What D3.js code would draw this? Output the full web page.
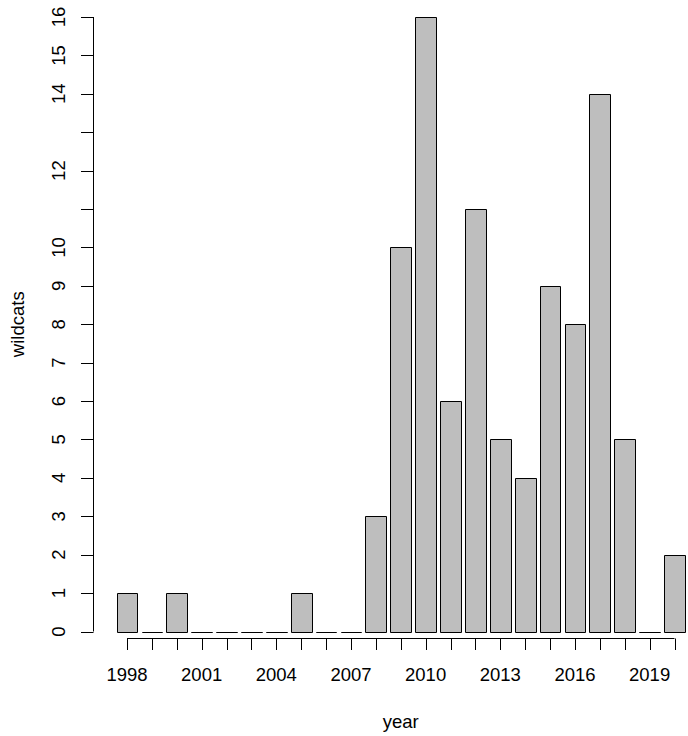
<!DOCTYPE html>
<meta charset="utf-8">
<style>
    body { margin: 0; background: #fff; }
    text {
        font-family: "Liberation Sans", Arial, sans-serif;
        font-size: 18.5px;
        fill: #000;
    }
    .bars path {
        fill: #bebebe;
        stroke: #000;
        stroke-width: 1;
    }
</style>
<svg id="svg" width="688" height="736"></svg>
<script src="https://d3js.org/d3.v7.min.js"></script>
<script>

    // data
    var years = d3.range(1998, 2021);
    var wildcats = [1, 0, 1, 0, 0, 0, 0, 1, 0, 0, 3, 10, 16, 6, 11, 5, 4, 9, 8, 14, 5, 0, 2];
    var yTicks = d3.range(0, 17);
    var yLabels = [0, 1, 2, 3, 4, 5, 6, 7, 8, 9, 10, 12, 14, 15, 16]; // 11 and 13 dropped like R does
    var xLabels = [1998, 2001, 2004, 2007, 2010, 2013, 2016, 2019];

    var svg = d3.select("svg");

    // R barplot: width 1, space 0.2 -> step 1.2
    var step = (674.5 - 127) / 22;
    var x = d3.scaleBand()
        .domain(years)
        .range([127 - step / 2, 674.5 + step / 2])
        .paddingInner(1 / 6)
        .paddingOuter(1 / 12);

    var y = d3.scaleLinear()
        .domain([0, 16])
        .range([631.5, 17]);

    function cx(d) { return x(d) + x.bandwidth() / 2; }

    // bars drawn as closed paths so that zero bars still show as a flat line
    svg.append("g")
        .attr("class", "bars")
        .selectAll("path")
        .data(years)
        .enter().append("path")
        .attr("d", function (d, i) {
            var x0 = Math.round(x(d)) + 0.5,
                x1 = Math.round(x(d) + x.bandwidth()) + 0.5,
                y0 = Math.round(y(0)) + 0.5,
                y1 = Math.round(y(wildcats[i])) + 0.5;
            return "M" + x0 + "," + y0 + "V" + y1 + "H" + x1 + "V" + y0 + "Z";
        });

    // y axis
    var ya = svg.append("g").attr("stroke", "#000").attr("stroke-width", 1);
    ya.append("line")
        .attr("x1", 93.5).attr("x2", 93.5)
        .attr("y1", y(0)).attr("y2", y(16));
    ya.selectAll("line.tick")
        .data(yTicks)
        .enter().append("line")
        .attr("class", "tick")
        .attr("x1", 81).attr("x2", 93.5)
        .attr("y1", function (d) { return Math.round(y(d)) + 0.5; })
        .attr("y2", function (d) { return Math.round(y(d)) + 0.5; });

    svg.append("g")
        .selectAll("text")
        .data(yLabels)
        .enter().append("text")
        .attr("text-anchor", "middle")
        .attr("transform", function (d) { return "translate(65," + y(d) + ") rotate(-90)"; })
        .text(function (d) { return d; });

    // x axis
    var xa = svg.append("g").attr("stroke", "#000").attr("stroke-width", 1);
    xa.append("line")
        .attr("x1", cx(years[0])).attr("x2", cx(years[years.length - 1]))
        .attr("y1", 638.5).attr("y2", 638.5);
    xa.selectAll("line.tick")
        .data(years)
        .enter().append("line")
        .attr("class", "tick")
        .attr("x1", function (d) { return Math.round(cx(d)) + 0.5; })
        .attr("x2", function (d) { return Math.round(cx(d)) + 0.5; })
        .attr("y1", 638.5).attr("y2", 650);

    svg.append("g")
        .selectAll("text")
        .data(xLabels)
        .enter().append("text")
        .attr("text-anchor", "middle")
        .attr("x", function (d) { return cx(d); })
        .attr("y", 681)
        .text(function (d) { return d; });

    // axis titles
    svg.append("text")
        .attr("text-anchor", "middle")
        .attr("x", (x.range()[0] + x.range()[1]) / 2)
        .attr("y", 728)
        .text("year");

    svg.append("text")
        .attr("text-anchor", "middle")
        .attr("transform", "translate(24," + y(8) + ") rotate(-90)")
        .text("wildcats");

</script>
